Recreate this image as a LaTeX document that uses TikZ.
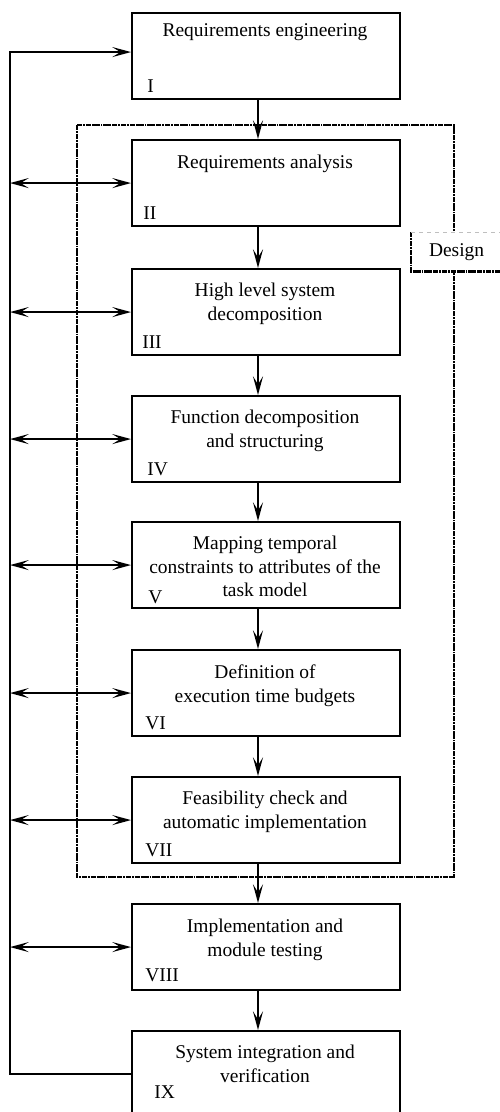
\documentclass[tikz,border=0pt]{standalone}
\usepackage{fontspec}
\setmainfont{Liberation Serif}
\usetikzlibrary{arrows.meta}

\tikzset{
  stagebox/.style={draw, line width=1.6pt, minimum width=201pt, minimum height=64.5pt, inner sep=0pt, anchor=north west},
  stagetext/.style={anchor=north, inner sep=0pt, align=center, font=\fontsize{14.6}{17.6}\selectfont},
  stagenum/.style={anchor=base west, inner sep=0pt, font=\fontsize{14.6}{17.6}\selectfont},
  flow/.style={line width=1.5pt},
  designframe/.style={line width=2.2pt, dash pattern=on 4pt off 0.6pt on 1.4pt off 0.6pt},
  tip/.tip={Stealth[length=14pt,width=7.5pt,inset=6pt]}
}

\begin{document}
\begin{tikzpicture}[x=0.75pt,y=0.75pt,yscale=-1,xscale=1]
\useasboundingbox (0,0) rectangle (499,1112);

% Helper coordinates
\coordinate (fb) at (10,0);
\coordinate (ax) at (258,0);

% Design frame
\draw [designframe] (77,125) rectangle (454,877);
% Design label
\draw (411,232) node [anchor=north west, fill=white, minimum width=68pt, minimum height=29.25pt, inner sep=0pt, font=\fontsize{14.6}{17.6}\selectfont] (design) {Design};
\draw [designframe] (design.north west) -- (design.south west) -- (design.south east);
\draw [gray!50, line width=0.6pt, dashed] (design.north west) -- (design.north east);

% Boxes
\draw (131,12) node [stagebox] (reqeng) {};
\draw (131,139) node [stagebox] (reqana) {};
\draw (131,268) node [stagebox] (hlsd) {};
\draw (131,395) node [stagebox] (fdec) {};
\draw (131,521) node [stagebox] (tmap) {};
\draw (131,649) node [stagebox] (etb) {};
\draw (131,776) node [stagebox] (feas) {};
\draw (131,903) node [stagebox] (impl) {};
\draw (131,1030) node [stagebox] (sysint) {};

% Text Node
\draw (265,23) node [stagetext] (reqengtxt) {Requirements engineering};
% Text Node
\draw (265,155) node [stagetext] (reqanatxt) {Requirements analysis};
% Text Node
\draw (265,283) node [stagetext] (hlsdtxt) {High level system\\decomposition};
% Text Node
\draw (265,410) node [stagetext] (fdectxt) {Function decomposition\\and structuring};
% Text Node
\draw (265,536) node [stagetext] (tmaptxt) {Mapping temporal\\constraints to attributes of the\\task model};
% Text Node
\draw (265,665) node [stagetext] (etbtxt) {Definition of\\execution time budgets};
% Text Node
\draw (265,791) node [stagetext] (feastxt) {Feasibility check and\\automatic implementation};
% Text Node
\draw (265,919) node [stagetext] (impltxt) {Implementation and\\module testing};
% Text Node
\draw (265,1045) node [stagetext] (sysinttxt) {System integration and\\verification};

% Numbers
\draw (147,93) node [stagenum] (n1) {I};
\draw (143,220) node [stagenum] (n2) {II};
\draw (142,348) node [stagenum] (n3) {III};
\draw (147,475) node [stagenum] (n4) {IV};
\draw (148,603) node [stagenum] (n5) {V};
\draw (145,729) node [stagenum] (n6) {VI};
\draw (145,856) node [stagenum] (n7) {VII};
\draw (145,981) node [stagenum] (n8) {VIII};
\draw (154,1098) node [stagenum] (n9) {IX};

% Flow down
\draw [flow, -tip] (reqeng.south -| ax) -- (reqana.north -| ax);
\draw [flow, -tip] (reqana.south -| ax) -- (hlsd.north -| ax);
\draw [flow, -tip] (hlsd.south -| ax) -- (fdec.north -| ax);
\draw [flow, -tip] (fdec.south -| ax) -- (tmap.north -| ax);
\draw [flow, -tip] (tmap.south -| ax) -- (etb.north -| ax);
\draw [flow, -tip] (etb.south -| ax) -- (feas.north -| ax);
\draw [flow, -tip] (feas.south -| ax) -- (impl.north -| ax);
\draw [flow, -tip] (impl.south -| ax) -- (sysint.north -| ax);

% Feedback
\draw [flow, -tip] (sysint.west) -- (sysint.west -| fb) -- ([yshift=-3]reqeng.west -| fb) -- ([yshift=-3]reqeng.west);
\foreach \b in {reqana,hlsd,fdec,tmap,etb,feas,impl}
  \draw [flow, tip-tip] (\b.west -| fb) -- (\b.west);

\end{tikzpicture}
\end{document}
